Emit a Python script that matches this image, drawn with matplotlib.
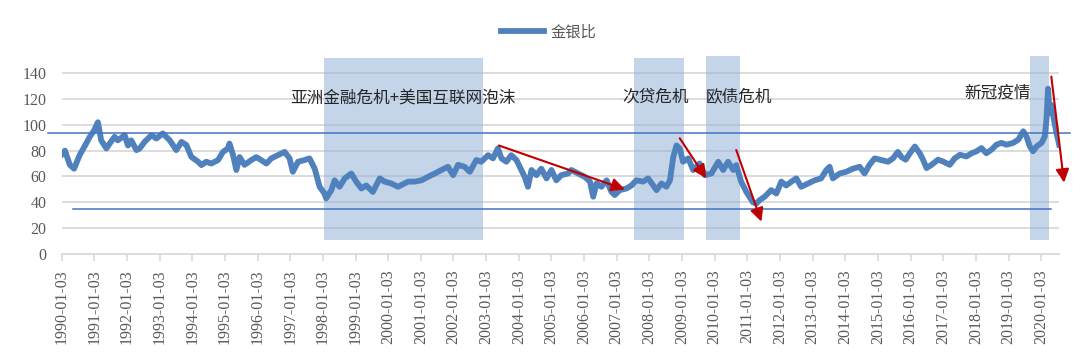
import matplotlib
matplotlib.use("Agg")
import matplotlib.pyplot as plt
from matplotlib.font_manager import FontProperties

# gold / silver ratio (decimal year, ratio)
years = [1990.00, 1990.10, 1990.25, 1990.38, 1990.55, 1990.75, 1990.86, 1991.00, 1991.11, 1991.21,
         1991.37, 1991.47, 1991.62, 1991.72, 1991.93, 1992.03, 1992.13, 1992.29, 1992.39, 1992.54,
         1992.75, 1992.90, 1993.10, 1993.31, 1993.41, 1993.51, 1993.67, 1993.82, 1993.97, 1994.18,
         1994.28, 1994.43, 1994.58, 1994.79, 1994.94, 1995.09, 1995.14, 1995.25, 1995.35, 1995.45,
         1995.60, 1995.81, 1995.96, 1996.11, 1996.27, 1996.42, 1996.62, 1996.83, 1996.98, 1997.08,
         1997.24, 1997.44, 1997.59, 1997.75, 1997.90, 1998.05, 1998.10, 1998.26, 1998.36, 1998.51,
         1998.67, 1998.87, 1999.02, 1999.18, 1999.33, 1999.53, 1999.74, 1999.89, 2000.09, 2000.30,
         2000.61, 2000.81, 2001.02, 2001.22, 2001.43, 2001.63, 2001.83, 2001.99, 2002.14, 2002.34,
         2002.50, 2002.70, 2002.85, 2003.06, 2003.21, 2003.36, 2003.47, 2003.62, 2003.77, 2003.93,
         2004.08, 2004.18, 2004.28, 2004.39, 2004.54, 2004.69, 2004.85, 2005.00, 2005.15, 2005.30,
         2005.51, 2005.61, 2005.82, 2006.02, 2006.18, 2006.28, 2006.38, 2006.53, 2006.69, 2006.84,
         2006.94, 2007.09, 2007.30, 2007.45, 2007.60, 2007.81, 2007.96, 2008.12, 2008.22, 2008.37,
         2008.52, 2008.63, 2008.73, 2008.83, 2008.93, 2009.03, 2009.19, 2009.34, 2009.54, 2009.70,
         2009.90, 2010.11, 2010.26, 2010.41, 2010.57, 2010.66, 2010.81, 2010.97, 2011.17, 2011.27,
         2011.38, 2011.53, 2011.73, 2011.89, 2012.04, 2012.19, 2012.35, 2012.50, 2012.65, 2012.86,
         2013.06, 2013.26, 2013.42, 2013.52, 2013.62, 2013.83, 2014.03, 2014.23, 2014.44, 2014.59,
         2014.74, 2014.90, 2015.10, 2015.31, 2015.46, 2015.61, 2015.72, 2015.85, 2015.98, 2016.13,
         2016.28, 2016.38, 2016.49, 2016.64, 2016.84, 2016.99, 2017.20, 2017.35, 2017.51, 2017.71,
         2017.87, 2018.02, 2018.17, 2018.32, 2018.48, 2018.63, 2018.78, 2018.94, 2019.14, 2019.30,
         2019.45, 2019.55, 2019.65, 2019.75, 2019.86, 2020.01, 2020.11, 2020.16, 2020.21, 2020.26,
         2020.31, 2020.39, 2020.47, 2020.55]
ratio = [77, 80, 69, 66, 76.5, 85.5, 90.7, 96, 102, 88,
         81.7, 85.5, 90.7, 88, 92, 84, 88, 80.4, 81.7, 86.8,
         92, 89.4, 93.3, 88, 84.3, 80.4, 86.8, 84.3, 75.2, 71.4,
         68.8, 71.4, 70, 72.7, 79, 81.7, 85.5, 76.5, 65, 75,
         69, 72.7, 75, 72.7, 70, 74, 76.5, 79, 74, 63.6,
         71.4, 72.7, 74, 66, 52, 46.8, 43, 49.4, 57, 52,
         58.5, 62.3, 56, 50.7, 53, 48, 58.5, 56, 54.6, 52,
         56, 56, 57, 59.7, 62.3, 65, 67.5, 61, 69, 67.5,
         63.6, 72.7, 71.4, 76.5, 74, 81.7, 74, 71.4, 76.5, 72.7,
         65, 59.7, 52, 65, 61, 66, 58.5, 65, 57, 61,
         62.3, 65, 62.3, 59.7, 56, 44.3, 54.6, 52, 57, 48,
         45.6, 49.4, 50.7, 53, 57, 56, 58.5, 53, 49.4, 54.6,
         52, 57, 75, 84, 81.7, 71.4, 74, 65, 70, 61,
         62.3, 71.4, 65, 71.4, 65, 68.8, 56, 48, 40, 39,
         41.7, 44.3, 49.4, 46.8, 56, 53, 56, 58.5, 52, 54.6,
         57, 58.5, 65, 67.5, 58.5, 62.3, 63.6, 66, 67.5, 62.3,
         69, 74, 72.7, 71.4, 74, 79, 75, 73, 78, 83.2,
         78, 73, 66.5, 69, 73, 71.6, 69, 74, 76.8, 75.5,
         78, 79.5, 82, 78, 80.8, 84.6, 86, 84.6, 86, 88.5,
         95, 91, 83.3, 79.5, 83.3, 86, 91, 103.8, 128, 109,
         115.4, 103.8, 93.6, 84.6]

tick_years = list(range(1990, 2021))
tick_labels = [f"{y}-01-03" for y in tick_years]

# crisis periods (start, end, bottom, top) and labels
crises = [(1998.02, 2002.89, 10.8, 151.5), (2007.52, 2009.06, 10.8, 151.5),
          (2009.74, 2010.79, 10.8, 153), (2019.67, 2020.24, 10.8, 153)]
crisis_text = ["亚洲金融危机+美国互联网泡沫", "次贷危机", "欧债危机", "新冠疫情"]
crisis_text_pos = [(2000.46, 121), (2008.2, 121.8), (2010.73, 121.8), (2018.67, 124.5)]

# channel lines (x0, x1, level)
channel = [(1989.57, 2020.88, 94), (1990.35, 2020.31, 34.5)]

# red arrows (start -> tip)
arrows = [((2003.39, 84), (2007.25, 50)), ((2008.93, 89.6), (2009.74, 58.6)),
          ((2010.66, 80.5), (2011.43, 25)), ((2020.31, 137.4), (2020.70, 55.2))]

serif = "Liberation Serif"
cjk = "Noto Sans CJK SC"
blue = "#4F81BD"
grey = "#595959"

fig = plt.figure(figsize=(10.8, 3.59), dpi=100)
ax = fig.add_axes([0.0571, 0.2928, 0.9236, 0.55])
ax.set_xlim(1990.0, 2020.55)
ax.set_ylim(0, 153)

for y in range(20, 141, 20):
    ax.axhline(y, color="#D9D9D9", lw=1.3, zorder=0)

for x0, x1, b, t in crises:
    ax.fill_between([x0, x1], b, t, color="#95B3D7", alpha=0.55, lw=0, zorder=1, clip_on=False)

line, = ax.plot(years, ratio, color=blue, lw=4.2, solid_joinstyle="round", zorder=3)

for x0, x1, lev in channel:
    ax.plot([x0, x1], [lev, lev], color="#4472C4", lw=1.1, zorder=4, clip_on=False)

for (xs, ys), (xt, yt) in arrows:
    ax.annotate("", xy=(xt, yt), xytext=(xs, ys),
                arrowprops=dict(arrowstyle="-|>", color="#C00000", lw=1.5,
                                mutation_scale=20, shrinkA=0, shrinkB=0),
                annotation_clip=False, zorder=5)

for s, (x, y) in zip(crisis_text, crisis_text_pos):
    ax.text(x, y, s, ha="center", va="center", fontsize=12, family=cjk, color="#262626", zorder=6)

for sp in ["top", "right", "left"]:
    ax.spines[sp].set_visible(False)
ax.spines["bottom"].set_color("#D9D9D9")
ax.spines["bottom"].set_linewidth(1.3)

ax.set_yticks(range(0, 141, 20))
ax.set_yticklabels([str(v) for v in range(0, 141, 20)], family=serif, fontsize=11.5, color=grey)
ax.tick_params(axis="y", length=0, pad=11)
ax.set_xticks(tick_years)
ax.set_xticklabels(tick_labels, rotation=90, family=serif, fontsize=11.5, color=grey)
ax.tick_params(axis="x", length=5, color="#D9D9D9", width=1.2, pad=6)

fig.legend([line], ["金银比"], loc="center", bbox_to_anchor=(0.508, 0.911), frameon=False,
           prop=FontProperties(family=cjk, size=11), labelcolor=grey,
           handlelength=2.8, handletextpad=0.45)

fig.savefig("out.png", dpi=100)
